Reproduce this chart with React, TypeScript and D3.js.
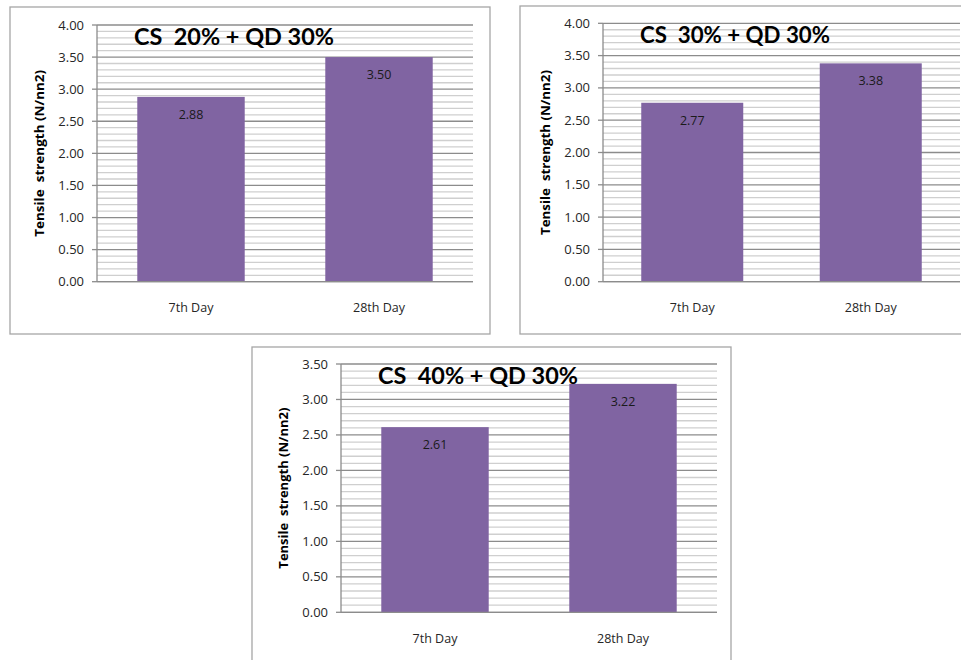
import React from "react";
import * as d3 from "d3";

const categories = ["7th Day", "28th Day"];
const titles = ["CS  20% + QD 30%", "CS  30% + QD 30%", "CS  40% + QD 30%"];
const valuesCS20 = [2.88, 3.5];
const valuesCS30 = [2.77, 3.38];
const valuesCS40 = [2.61, 3.22];
const yMaxes = [4, 4, 3.5];
const yAxisTitle = "Tensile  strength (N/nn2)";
const majorStep = 0.5;
const minorStep = 0.1;

const seriesList = [valuesCS20, valuesCS30, valuesCS40];

const panels = [
  { frame: { x: 10, y: 7, w: 480, h: 327 }, plot: { l: 97, t: 25, r: 473, b: 281.7 }, titleW: 200, yTitleLen: 167 },
  { frame: { x: 520, y: 6, w: 460, h: 328 }, plot: { l: 603, t: 23.3, r: 960, b: 281.7 }, titleW: 190, yTitleLen: 165 },
  { frame: { x: 252, y: 347, w: 479, h: 330 }, plot: { l: 341, t: 364, r: 717, b: 612.3 }, titleW: 200, yTitleLen: 161 },
];

const FONT = "'Open Sans', 'Noto Sans', sans-serif";
const TITLE_FONT = "Lato, 'Open Sans', sans-serif";
const BAR = "#8064A2";

function Panel({ idx }: { idx: number }) {
  const p = panels[idx];
  const values = seriesList[idx];
  const yMax = yMaxes[idx];
  const { l, t, r, b } = p.plot;
  const y = d3.scaleLinear().domain([0, yMax]).range([b, t]);
  const gap = 0.75 / 1.75;
  const x = d3.scaleBand<string>().domain(categories).range([l, r]).paddingInner(gap).paddingOuter(gap / 2);
  const majors = d3.range(0, yMax + 1e-9, majorStep);
  const minors = d3.range(0, yMax + 1e-9, minorStep).filter(
    (v) => Math.abs(v / majorStep - Math.round(v / majorStep)) > 1e-6
  );
  const fmt = d3.format(".2f");
  const ymid = (t + b) / 2;
  return (
    <g>
      <rect x={p.frame.x} y={p.frame.y} width={p.frame.w} height={p.frame.h} fill="#fff" stroke="#a6a6a6" strokeWidth={1.3} />
      {minors.map((v) => (
        <line key={"mn" + v} x1={l} x2={r} y1={y(v)} y2={y(v)} stroke="#cfcfcf" strokeWidth={1.3} />
      ))}
      {majors.map((v) => (
        <line key={"mj" + v} x1={l} x2={r} y1={y(v)} y2={y(v)} stroke="#8c8c8c" strokeWidth={1.3} />
      ))}
      {values.map((v, i) => (
        <rect key={"b" + i} x={x(categories[i])} y={y(v)} width={x.bandwidth()} height={y(0) - y(v)} fill={BAR} />
      ))}
      {values.map((v, i) => (
        <text key={"vl" + i} x={(x(categories[i]) as number) + x.bandwidth() / 2} y={y(v) + 22} textAnchor="middle"
          fontFamily={FONT} fontSize={12.5} fill="#1a1a1a">{fmt(v)}</text>
      ))}
      <line x1={l} x2={l} y1={t} y2={b} stroke="#8c8c8c" strokeWidth={1.3} />
      <line x1={l} x2={r} y1={b} y2={b} stroke="#8c8c8c" strokeWidth={1.3} />
      {majors.map((v) => (
        <g key={"tk" + v}>
          <line x1={l - 5} x2={l} y1={y(v)} y2={y(v)} stroke="#8c8c8c" strokeWidth={1.3} />
          <text x={l - 13} y={y(v)} dy="0.35em" textAnchor="end" fontFamily={FONT} fontSize={13} fill="#262626">{fmt(v)}</text>
        </g>
      ))}
      {categories.map((c) => (
        <text key={"xl" + c} x={(x(c) as number) + x.bandwidth() / 2} y={b + 26} dy="0.35em" textAnchor="middle"
          fontFamily={FONT} fontSize={12.5} fill="#262626">{c}</text>
      ))}
      <text x={l + 37} y={t + 20} fontFamily={TITLE_FONT} fontWeight={700} fontSize={22} fill="#000"
        textLength={p.titleW} lengthAdjust="spacingAndGlyphs" style={{ whiteSpace: "pre" }}>{titles[idx]}</text>
      <text transform={`translate(${l - 57},${ymid}) rotate(-90)`} textAnchor="middle" dy="0.35em"
        fontFamily={FONT} fontWeight={700} fontSize={11.5} fill="#000"
        textLength={p.yTitleLen} lengthAdjust="spacingAndGlyphs" style={{ whiteSpace: "pre" }}>{yAxisTitle}</text>
    </g>
  );
}

export default function App() {
  return (
    <svg width={961} height={660} style={{ position: "absolute", left: 0, top: 0, background: "#fff" }}>
      <rect x={0} y={0} width={961} height={660} fill="#fff" />
      {panels.map((_, i) => (
        <Panel key={i} idx={i} />
      ))}
    </svg>
  );
}
